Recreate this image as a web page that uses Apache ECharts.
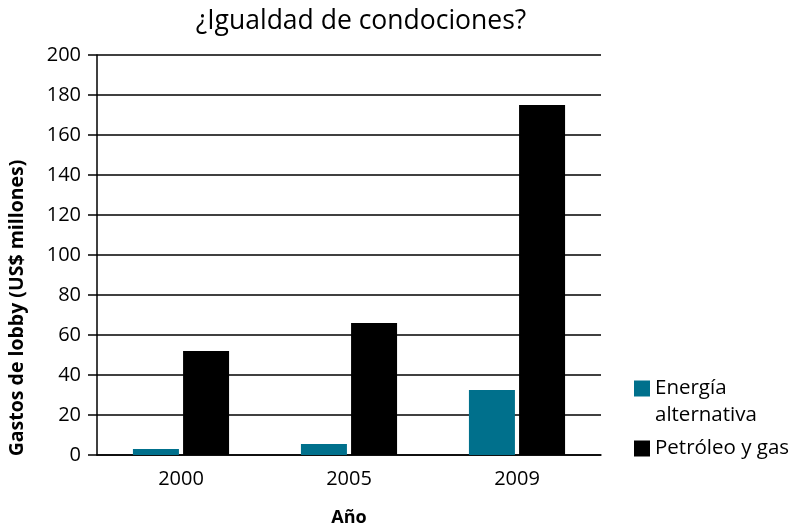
<!DOCTYPE html>
<html>
<head>
<meta charset="utf-8">
<script src="https://cdn.jsdelivr.net/npm/echarts@6/dist/echarts.min.js"></script>
<style>
  html, body { margin: 0; padding: 0; background: #fff; }
  #chart { width: 793px; height: 530px; }
</style>
</head>
<body>
<div id="chart"></div>
<script>
  var years = ['2000', '2005', '2009'];
  var alternativa = [3, 5.5, 32.5];
  var petroleo = [52, 66, 175];
  var yTicks = [0, 20, 40, 60, 80, 100, 120, 140, 160, 180, 200];

  var font = 'Open Sans';
  var chart = echarts.init(document.getElementById('chart'));
  var option = {
    animation: false,
    textStyle: { fontFamily: font, color: '#000' },
    title: {
      text: '¿Igualdad de condociones?',
      left: 356, top: 3, textAlign: 'center',
      textStyle: { fontFamily: font, fontSize: 26.5, fontWeight: 'normal', color: '#000' }
    },
    legend: [
      {
        // empty first line keeps the square level with "Energía"
        left: 629, top: 343,
        itemWidth: 16, itemHeight: 16,
        icon: 'rect',
        data: ['Energía alternativa'],
        formatter: function () { return '\nEnergía\nalternativa'; },
        textStyle: { fontFamily: font, fontSize: 20.5, color: '#000', lineHeight: 27 }
      },
      {
        left: 629, top: 433,
        itemWidth: 16, itemHeight: 16,
        icon: 'rect',
        data: ['Petróleo y gas'],
        textStyle: { fontFamily: font, fontSize: 20.5, color: '#000' }
      }
    ],
    grid: { left: 97, right: 192, top: 55, bottom: 75, outerBoundsMode: 'none', containLabel: false },
    xAxis: {
      type: 'category',
      data: years,
      name: 'Año',
      nameLocation: 'middle',
      nameGap: 54,
      nameTextStyle: { fontFamily: font, fontSize: 18, fontWeight: 'bold', color: '#000' },
      axisLine: { lineStyle: { color: '#000', width: 1.5 } },
      axisTick: { length: 11, lineStyle: { color: '#000', width: 1.5 } },
      axisLabel: { fontFamily: font, fontSize: 20, color: '#000', margin: 14 }
    },
    yAxis: {
      type: 'value',
      min: yTicks[0], max: yTicks[yTicks.length - 1], interval: 20,
      name: 'Gastos de lobby (US$ millones)',
      nameLocation: 'middle',
      nameGap: 70,
      nameTextStyle: { fontFamily: font, fontSize: 19.5, fontWeight: 'bold', color: '#000', padding: [0, 106, 0, 0] },
      axisLine: { show: true, lineStyle: { color: '#000', width: 1.5 } },
      axisTick: { show: true, length: 9, lineStyle: { color: '#000', width: 1.5 } },
      splitLine: { lineStyle: { color: '#000', width: 1.5 } },
      axisLabel: { fontFamily: font, fontSize: 20, color: '#000', margin: 16 }
    },
    series: [
      {
        name: 'Energía alternativa', type: 'bar', data: alternativa,
        barWidth: 46, barGap: '9%',
        itemStyle: { color: '#00708c' }
      },
      {
        name: 'Petróleo y gas', type: 'bar', data: petroleo,
        barWidth: 46,
        itemStyle: { color: '#000000' }
      }
    ]
  };
  chart.setOption(option);
</script>
</body>
</html>
